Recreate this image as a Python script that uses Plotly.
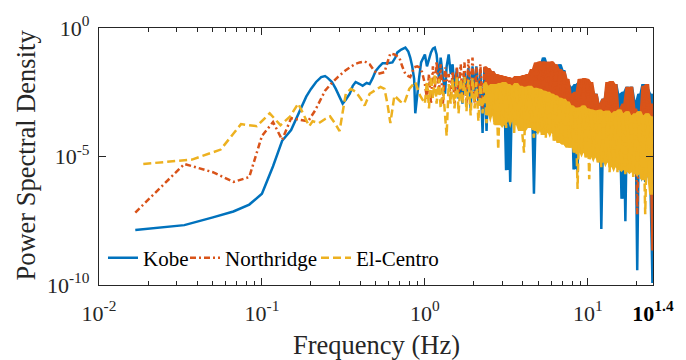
import numpy as np
import plotly.graph_objects as go
from numpy.lib.stride_tricks import sliding_window_view

# ---------------- data (frequency in Hz, PSD stored as log10 value) ----------------
kobe_freq_lo = [0.0167, 0.0334, 0.050, 0.0668, 0.0836, 0.100, 0.117, 0.133, 0.151, 0.163,
                0.174, 0.187, 0.200, 0.215, 0.231, 0.244, 0.254, 0.269, 0.284, 0.301,
                0.313, 0.327, 0.346, 0.361, 0.376, 0.398, 0.415, 0.439, 0.458, 0.478,
                0.498, 0.527, 0.550, 0.589, 0.632, 0.659, 0.678, 0.716, 0.759, 0.791,
                0.813, 0.836, 0.859, 0.873, 0.897, 0.923, 0.948, 0.989]
kobe_logpsd_lo = [-7.86, -7.67, -7.37, -7.14, -6.87, -6.45, -5.38, -4.39, -3.97, -3.51,
                  -3.05, -2.67, -2.37, -2.10, -1.91, -1.87, -1.95, -2.10, -2.37, -2.75,
                  -2.94, -2.79, -2.56, -2.25, -2.10, -2.18, -2.25, -2.14, -2.18, -1.95,
                  -1.68, -1.49, -1.37, -1.37, -1.34, -1.15, -0.95, -0.84, -0.76, -0.92,
                  -1.15, -1.49, -1.98, -3.32, -2.56, -1.91, -1.34, -1.03]

north_freq_lo = [0.0167, 0.0334, 0.050, 0.0668, 0.0836, 0.100, 0.117, 0.133, 0.151, 0.167,
                 0.192, 0.212, 0.244, 0.265, 0.292, 0.327, 0.371, 0.398, 0.427, 0.458,
                 0.491, 0.512, 0.542, 0.565, 0.589, 0.614, 0.650, 0.697, 0.726, 0.759,
                 0.791, 0.813, 0.859, 0.897, 0.923, 0.962]
north_logpsd_lo = [-7.18, -5.29, -5.61, -5.99, -5.80, -4.20, -3.66, -4.35, -3.51, -3.55,
                   -3.63, -3.21, -2.44, -2.18, -1.91, -1.64, -1.41, -1.34, -1.30, -1.41,
                   -1.68, -1.79, -1.76, -1.72, -1.34, -0.99, -1.03, -1.15, -1.49, -1.79,
                   -1.87, -1.91, -1.53, -1.49, -1.53, -1.72]

elc_freq_lo = [0.0187, 0.0372, 0.0558, 0.0744, 0.0930, 0.1116, 0.130, 0.149, 0.167, 0.1855,
               0.195, 0.2046, 0.2238, 0.243, 0.262, 0.2804, 0.2995, 0.3136, 0.327, 0.351,
               0.376, 0.404, 0.427, 0.458, 0.491, 0.534, 0.565, 0.589, 0.614, 0.650,
               0.707, 0.747, 0.802, 0.872, 0.935]
elc_logpsd_lo = [-5.29, -5.12, -4.73, -3.74, -3.82, -3.32, -3.78, -3.44, -2.94, -3.51,
                 -3.82, -3.63, -3.70, -3.55, -3.44, -3.70, -4.01, -3.24, -2.56, -2.37,
                 -2.48, -2.75, -3.02, -2.56, -2.44, -2.29, -2.37, -2.94, -3.70, -2.63,
                 -2.86, -2.94, -2.37, -2.10, -2.63]

# high-frequency (dense) part, sampled on a shared frequency list
freq_hi = [1.00, 1.03, 1.06, 1.09, 1.12, 1.15, 1.18, 1.22, 1.25, 1.29,
           1.33, 1.36, 1.40, 1.44, 1.48, 1.52, 1.57, 1.61, 1.66, 1.70,
           1.75, 1.80, 1.85, 1.91, 1.96, 2.02, 2.07, 2.13, 2.19, 2.26,
           2.32, 2.39, 2.45, 2.52, 2.59, 2.67, 2.74, 2.82, 2.90, 2.98,
           3.07, 3.15, 3.24, 3.34, 3.43, 3.53, 3.63, 3.73, 3.84, 3.95,
           4.06, 4.17, 4.29, 4.41, 4.54, 4.67, 4.80, 4.94, 5.08, 5.22,
           5.37, 5.52, 5.68, 5.84, 6.01, 6.18, 6.35, 6.53, 6.72, 6.91,
           7.11, 7.31, 7.52, 7.73, 7.95, 8.18, 8.41, 8.65, 8.90, 9.15,
           9.41, 9.68, 9.95, 10.2, 10.5, 10.8, 11.1, 11.5, 11.8, 12.1,
           12.5, 12.8, 13.2, 13.6, 14.0, 14.4, 14.8, 15.2, 15.6, 16.1,
           16.5, 17.0, 17.5, 18.0, 18.5, 19.0, 19.6, 20.1, 20.7, 21.3,
           21.9, 22.5, 23.2, 23.8, 24.5, 25.1]

kobe_logpsd_hi = [-1.03, -1.49, -1.22, -0.95, -0.80, -0.76, -1.03, -1.98, -1.15, -1.87,
                  -2.56, -1.49, -1.03, -1.79, -1.41, -2.37, -1.60, -2.75, -2.06, -2.94,
                  -1.68, -2.56, -1.56, -3.13, -1.49, -2.48, -1.49, -2.94, -1.64, -4.08,
                  -1.53, -4.01, -1.79, -2.75, -1.68, -3.32, -1.91, -2.94, -2.02, -3.70,
                  -2.18, -5.53, -2.25, -5.99, -2.29, -3.32, -2.33, -3.70, -2.29, -3.13,
                  -2.37, -3.89, -2.48, -3.51, -2.56, -6.45, -2.94, -4.08, -1.41, -3.32,
                  -1.15, -3.70, -1.41, -3.13, -1.49, -3.51, -1.49, -2.94, -1.41, -3.89,
                  -1.64, -3.70, -2.18, -4.47, -2.29, -5.50, -2.18, -5.61, -2.10, -4.08,
                  -1.98, -4.47, -2.25, -3.70, -2.37, -4.66, -2.56, -4.85, -2.94, -7.82,
                  -2.75, -4.85, -2.37, -5.23, -2.25, -4.47, -2.18, -5.23, -2.56, -6.64,
                  -2.48, -7.52, -2.29, -5.23, -2.29, -4.85, -2.82, -9.43, -2.56, -5.61,
                  -2.18, -5.99, -2.37, -5.80, -2.56, -9.92]

north_logpsd_hi = [-2.18, -2.75, -1.79, -2.94, -1.49, -2.37, -1.30, -2.56, -1.41, -2.94,
                   -1.53, -2.06, -1.79, -2.75, -1.68, -2.94, -1.49, -2.56, -1.41, -2.75,
                   -1.34, -2.94, -1.22, -2.56, -1.15, -2.94, -1.53, -2.75, -1.41, -3.13,
                   -1.49, -2.94, -1.56, -3.13, -1.68, -2.94, -1.79, -3.32, -1.83, -3.13,
                   -1.87, -3.32, -1.91, -3.51, -1.95, -3.13, -1.87, -3.32, -1.87, -3.51,
                   -1.83, -3.13, -1.79, -3.32, -1.60, -3.51, -1.34, -3.13, -1.30, -3.32,
                   -1.30, -3.51, -1.30, -3.32, -1.30, -3.51, -1.41, -3.32, -1.60, -3.70,
                   -1.68, -3.51, -1.98, -3.70, -2.56, -3.89, -2.48, -3.70, -1.98, -3.89,
                   -1.95, -3.70, -1.98, -3.89, -2.10, -3.70, -2.56, -4.08, -2.94, -4.27,
                   -2.75, -3.89, -2.10, -4.08, -2.06, -3.89, -2.18, -4.08, -3.13, -4.47,
                   -2.94, -4.08, -2.29, -4.27, -2.29, -3.89, -3.13, -7.25, -3.51, -4.47,
                   -2.25, -4.27, -2.18, -4.08, -2.94, -8.66]

elc_logpsd_hi = [-2.94, -2.06, -3.13, -1.87, -2.75, -1.79, -2.94, -1.98, -3.13, -2.29,
                 -3.32, -4.20, -2.18, -2.94, -1.98, -3.13, -1.87, -3.32, -1.98, -2.94,
                 -1.91, -3.24, -2.02, -3.40, -1.95, -3.13, -2.10, -3.63, -2.18, -3.32,
                 -2.10, -3.70, -2.25, -3.40, -2.18, -3.78, -2.18, -4.73, -2.14, -3.78,
                 -2.10, -3.89, -2.18, -3.63, -2.25, -4.08, -2.14, -3.78, -2.25, -4.01,
                 -4.85, -2.29, -3.89, -2.25, -3.78, -4.27, -2.33, -4.01, -2.37, -4.16,
                 -2.44, -4.27, -2.48, -4.08, -2.56, -4.39, -2.63, -4.47, -2.71, -4.54,
                 -2.75, -4.66, -2.86, -4.66, -3.02, -4.85, -3.09, -6.26, -3.09, -4.85,
                 -3.02, -5.04, -3.13, -5.88, -3.17, -5.04, -3.21, -5.23, -3.17, -5.42,
                 -3.24, -5.23, -3.21, -5.61, -3.32, -5.42, -3.24, -5.61, -3.17, -5.53,
                 -3.32, -5.69, -3.24, -5.61, -3.40, -5.80, -3.32, -5.69, -3.24, -5.92,
                 -3.40, -7.25, -3.32, -5.80, -3.44, -6.49]

assert len(freq_hi) == len(kobe_logpsd_hi) == len(north_logpsd_hi) == len(elc_logpsd_hi)

x_major = [0.01, 0.1, 1, 10, 25.11]
x_major_text = ["10<sup>-2</sup>", "10<sup>-1</sup>", "10<sup>0</sup>", "10<sup>1</sup>",
                "<span style='color:#000000'><b>10<sup>1.4</sup></b></span>"]
x_minor = [0.02, 0.03, 0.04, 0.05, 0.06, 0.07, 0.08, 0.09,
           0.2, 0.3, 0.4, 0.5, 0.6, 0.7, 0.8, 0.9,
           2, 3, 4, 5, 6, 7, 8, 9, 20]
y_major = [1e-10, 1e-5, 1]
y_major_text = ["10<sup>-10</sup>", "10<sup>-5</sup>", "10<sup>0</sup>"]

series = [
    ("Kobe", kobe_freq_lo, kobe_logpsd_lo, kobe_logpsd_hi, "#0072BD", "solid", 37),
    ("Northridge", north_freq_lo, north_logpsd_lo, north_logpsd_hi, "#D95319", "6px,3px,2px,3px", 86),
    ("El-Centro", elc_freq_lo, elc_logpsd_lo, elc_logpsd_hi, "#EDB120", "8px,4px", 90),
]
BAND_START = 30  # index in freq_hi where the spectrum becomes a dense band

FONT = "Liberation Serif"
AX = "#262626"


def dense_band(freqs, logp):
    """Envelope of the dense part of a spectrum (upper: local max, lower: 2nd lowest of 5)."""
    p = np.asarray(logp, dtype=float)
    f = np.asarray(freqs, dtype=float)
    pad = np.concatenate([[p[0], p[0]], p, [p[-1], p[-1]]])
    win5 = sliding_window_view(pad, 5)
    upper = win5[:, 1:4].max(axis=1)
    lower = np.sort(win5, axis=1)[:, 1]
    return f, upper, lower


fig = go.Figure()
for name, f_lo, p_lo, p_hi, color, dash, lw in series:
    fb, up, lo = dense_band(freq_hi[BAND_START:], p_hi[BAND_START:])
    fig.add_trace(go.Scatter(x=np.concatenate([fb, fb[::-1]]),
                             y=10.0 ** np.concatenate([up, lo[::-1]]),
                             mode="lines", fill="toself", fillcolor=color,
                             line=dict(width=0, color=color), hoverinfo="skip",
                             showlegend=False))
    f = np.array(list(f_lo) + list(freq_hi))
    p = 10.0 ** np.array(list(p_lo) + list(p_hi))
    fig.add_trace(go.Scatter(x=f, y=p, mode="lines", name=name, legendwidth=lw,
                             line=dict(color=color, width=2.5, dash=dash)))

fig.update_layout(
    width=686, height=360,
    margin=dict(l=99, r=29, t=23, b=75),
    paper_bgcolor="white", plot_bgcolor="white",
    font=dict(family=FONT, color=AX),
    showlegend=True,
    legend=dict(orientation="h", x=0.0072, y=0.105, xanchor="left", yanchor="middle",
                bgcolor="rgba(0,0,0,0)", font=dict(family=FONT, size=21, color="#000000"),
                itemwidth=30, tracegroupgap=0),
    annotations=[
        dict(text="Frequency (Hz)", x=0.5, y=-0.233, xref="paper", yref="paper",
             xanchor="center", yanchor="middle", showarrow=False,
             font=dict(family=FONT, size=26.5, color=AX)),
        dict(text="Power Spectral Density", x=-0.1326, y=0.5057, xref="paper", yref="paper",
             xanchor="center", yanchor="middle", showarrow=False, textangle=-90,
             font=dict(family=FONT, size=26.5, color=AX)),
    ],
)

fig.update_xaxes(type="log", range=[-2, np.log10(25.12)], tickvals=x_major, ticktext=x_major_text,
                 ticks="inside", ticklen=7, tickwidth=1, tickcolor=AX, ticklabelstandoff=8,
                 showline=True, linecolor=AX, linewidth=1.2, mirror="ticks",
                 showgrid=False, zeroline=False,
                 tickfont=dict(family=FONT, size=22, color=AX),
                 minor=dict(tickvals=x_minor, ticks="inside", ticklen=4, tickcolor=AX, showgrid=False))
fig.update_yaxes(type="log", range=[-10, 0], tickvals=y_major, ticktext=y_major_text,
                 ticks="inside", ticklen=7, tickwidth=1, tickcolor=AX, ticklabelstandoff=4,
                 showline=True, linecolor=AX, linewidth=1.2, mirror="ticks",
                 showgrid=False, zeroline=False,
                 tickfont=dict(family=FONT, size=22, color=AX))

fig.write_html("out.html")
